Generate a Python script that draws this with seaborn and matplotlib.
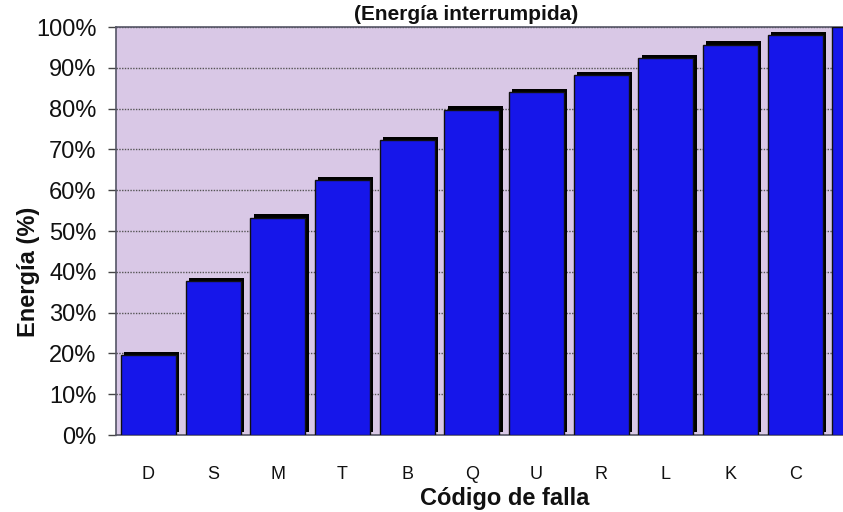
import matplotlib
matplotlib.use("Agg")
import matplotlib.pyplot as plt
import matplotlib.patheffects as pe
from matplotlib.ticker import FixedLocator, PercentFormatter
import seaborn as sns
import pandas as pd

categories = ["D", "S", "M", "T", "B", "Q", "U", "R", "L", "K", "C", "A"]
energia_pct = [19.6, 37.7, 53.2, 62.5, 72.3, 79.7, 84.0, 88.2, 92.3, 95.6, 98.0, 100.0]
y_ticks = [0, 10, 20, 30, 40, 50, 60, 70, 80, 90, 100]
title = "(Energía interrumpida)"
x_label = "Código de falla"
y_label = "Energía (%)"

df = pd.DataFrame({"codigo": categories, "energia": energia_pct})

sns.set_theme(style="white")
plt.rcParams["font.family"] = ["Liberation Sans", "DejaVu Sans"]

fig = plt.figure(figsize=(8.43, 5.12), dpi=100)
ax = fig.add_axes([116 / 843, 1 - 435 / 512, 727 / 843, 408 / 512])
ax.set_facecolor("#d9c8e6")

sns.barplot(data=df, x="codigo", y="energia", color="#1616ea", saturation=1,
            width=0.85, edgecolor="#111111", linewidth=1.0, ax=ax, zorder=3)
for p in ax.patches:
    p.set_path_effects([pe.SimplePatchShadow(offset=(2.5, 2.5), shadow_rgbFace="black", alpha=1.0),
                        pe.Normal()])

ax.yaxis.set_major_locator(FixedLocator(y_ticks))
ax.yaxis.set_major_formatter(PercentFormatter(decimals=0))
ax.yaxis.grid(True, linestyle=(0, (1, 1)), color="#555555", linewidth=1.0, zorder=0)
ax.set_axisbelow(True)

# category boundaries as minor ticks (Excel-style)
ax.set_xticks([i + 0.5 for i in range(len(categories) - 2)], minor=True)
ax.tick_params(axis="x", which="major", length=0, pad=22, labelsize=13, labelcolor="#111111")
ax.tick_params(axis="x", which="minor", length=5, width=1, color="#444444", direction="out")
ax.tick_params(axis="y", which="major", length=6, width=1, color="#444444", direction="out",
               labelsize=17, labelcolor="#111111", pad=8)
ax.tick_params(bottom=True, left=True)

ax.set_ylim(0, 100)
ax.set_xlim(-0.5, 10.74)

for s in ["left", "bottom", "top"]:
    ax.spines[s].set_color("#555566")
    ax.spines[s].set_linewidth(1.2)
ax.spines["right"].set_visible(False)

ax.set_xlabel(x_label, fontsize=17, fontweight="bold", color="#111111")
ax.set_ylabel(y_label, fontsize=17, fontweight="bold", color="#111111")
ax.xaxis.set_label_coords(0.535, -0.128)
ax.yaxis.set_label_coords(-0.105, 0.40)
ax.text(0.481, 1.03, title, transform=ax.transAxes, ha="center", va="center",
        fontsize=15, fontweight="bold", color="#111111")

fig.savefig("out.png", dpi=100, facecolor="white")
